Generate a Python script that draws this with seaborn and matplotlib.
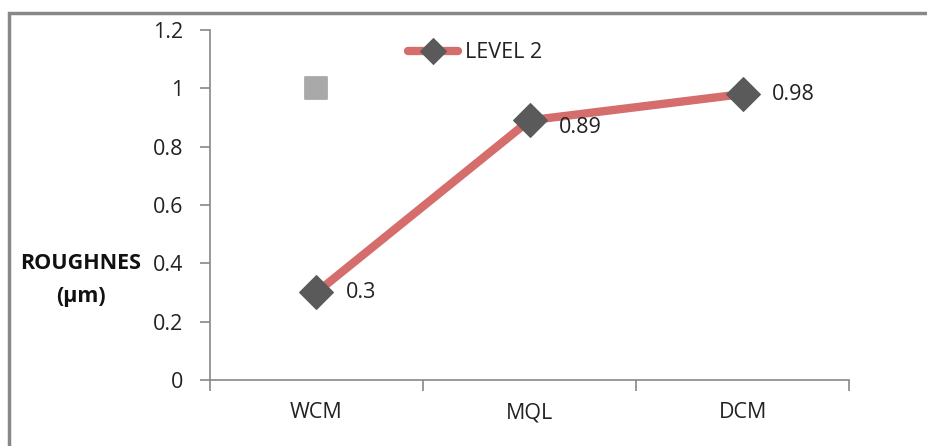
import numpy as np
import pandas as pd
import matplotlib
matplotlib.use("Agg")
import matplotlib.pyplot as plt
import seaborn as sns
from matplotlib.patches import Rectangle

# data
methods = ["WCM", "MQL", "DCM"]
level2 = [0.3, 0.89, 0.98]
stray_x = ["WCM"]
stray_y = [1.0]
yticks = [0, 0.2, 0.4, 0.6, 0.8, 1, 1.2]
ytick_labels = ["0", "0.2", "0.4", "0.6", "0.8", "1", "1.2"]

df = pd.DataFrame({"Method": methods, "Roughness": level2})
df_stray = pd.DataFrame({"Method": stray_x, "Roughness": stray_y})

sns.set_style("white")
plt.rcParams["font.family"] = ["Open Sans", "DejaVu Sans"]

fig = plt.figure(figsize=(9.27, 4.46), dpi=100)
ax = fig.add_axes([0.2265, 0.148, 0.6895, 0.785])

sns.lineplot(data=df, x="Method", y="Roughness", ax=ax, color="#D46D6B",
             linewidth=6, marker="D", markersize=17, markerfacecolor="#5A5A5A",
             markeredgecolor="#5A5A5A", label="LEVEL 2", sort=False)
sns.scatterplot(data=df_stray, x="Method", y="Roughness", ax=ax, marker="s",
                s=260, color="#A9A9A9", edgecolor="#A9A9A9", legend=False)

# data labels
for i, v in enumerate(level2):
    ax.annotate(f"{v:g}", (i, v), xytext=(21, -5 if i == 1 else 0),
                textcoords="offset points", va="center", ha="left",
                fontsize=15.5, color="#222222")

ax.set_xlim(-0.5, 2.5)
ax.set_ylim(0, 1.2)
ax.set_yticks(yticks)
ax.set_yticklabels(ytick_labels, fontsize=15.5, color="#222222")
ax.set_xticks(range(len(methods)))
ax.set_xticklabels(methods, fontsize=15.5, color="#222222")
ax.tick_params(bottom=True, left=True)
ax.tick_params(axis="x", which="major", length=0, pad=16)
ax.set_xticks([-0.5, 0.5, 1.5, 2.5], minor=True)
ax.tick_params(axis="x", which="minor", bottom=True, length=8, color="#888888", width=1.2)
ax.tick_params(axis="y", length=7, color="#888888", width=1.2, pad=12)
ax.set_xlabel("")
ax.set_ylabel("")
for s in ["top", "right"]:
    ax.spines[s].set_visible(False)
for s in ["left", "bottom"]:
    ax.spines[s].set_color("#888888")
    ax.spines[s].set_linewidth(1.2)

fig.text(0.087, 0.41, "ROUGHNES", fontsize=15.5, fontweight="bold",
         ha="center", va="center", color="#111111")
fig.text(0.087, 0.335, "(\u03bcm)", fontsize=15.5, fontweight="bold",
         ha="center", va="center", color="#111111")

leg = ax.legend(loc="center", bbox_to_anchor=(0.415, 0.935), frameon=False,
                fontsize=15.5, handlelength=2.3, handletextpad=0.35, markerscale=0.8)
for t in leg.get_texts():
    t.set_color("#222222")

# outer border of the chart area
fig.patches.append(Rectangle((0.01, -0.05), 1.2, 0.021 + 1.0, transform=fig.transFigure,
                             fill=False, edgecolor="#888888", linewidth=2.5))

fig.savefig("out.png", dpi=100)
